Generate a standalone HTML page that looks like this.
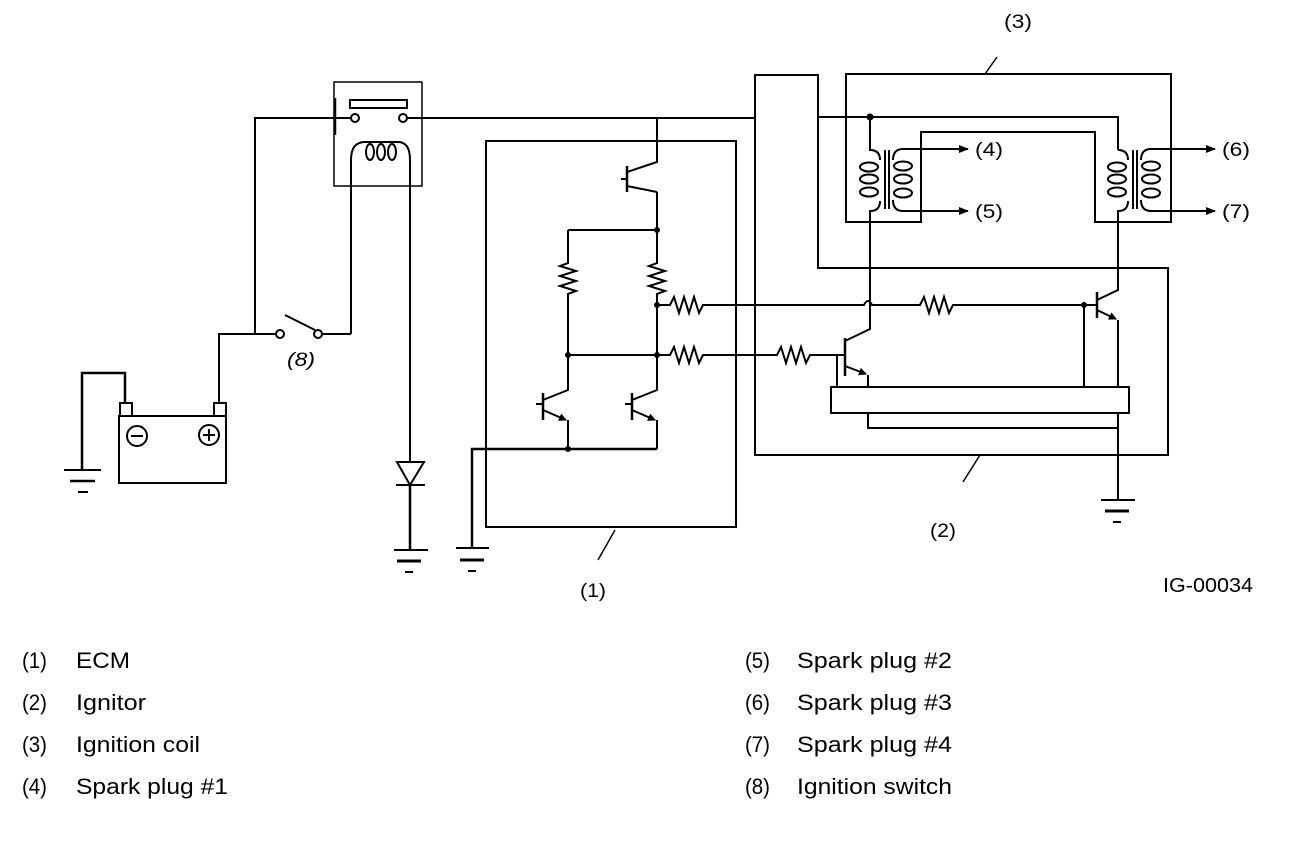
<!DOCTYPE html>
<html><head><meta charset="utf-8"><style>
html,body{margin:0;padding:0;background:#fff;}
svg{display:block;}
text{font-family:"Liberation Sans",Arial,sans-serif;fill:#000;}
</style></head><body>
<svg width="1312" height="866" viewBox="0 0 1312 866" xmlns="http://www.w3.org/2000/svg">
<defs>
<marker id="ar" markerWidth="10" markerHeight="8" refX="9" refY="4" orient="auto" markerUnits="userSpaceOnUse">
<path d="M0,0 L10,4 L0,8 Z" fill="#000"/></marker>
<marker id="ea" markerWidth="8" markerHeight="8" refX="7" refY="4" orient="auto" markerUnits="userSpaceOnUse">
<path d="M0,0 L8,4 L0,8 Z" fill="#000"/></marker>
</defs>
<g fill="none" stroke="#000" stroke-width="2">
<rect x="334" y="82" width="88" height="104" stroke-width="1.5"/>
<rect x="350" y="100" width="57" height="8" stroke-width="2"/>
<circle cx="355" cy="118" r="4" fill="#fff"/>
<circle cx="403" cy="118" r="4" fill="#fff"/>
<line x1="335" y1="98" x2="335" y2="135" stroke-width="2.5"/>
<path d="M255,334 V118 H351"/>
<path d="M407,118 H755"/>
<path d="M351,334 V160 Q351,142 365,142 H398 Q410,142 410,160 V462"/>
<ellipse cx="370" cy="152" rx="4" ry="8"/><ellipse cx="381" cy="152" rx="4" ry="8"/><ellipse cx="392" cy="152" rx="4" ry="8"/>
<path d="M219,403 V334 H276"/>
<circle cx="280" cy="334" r="4" fill="#fff"/>
<circle cx="318" cy="334" r="4" fill="#fff"/>
<line x1="285" y1="315" x2="315" y2="330"/>
<path d="M322,334 H351"/>
<rect x="119" y="416" width="107" height="67"/>
<rect x="120" y="403" width="12" height="13"/>
<rect x="214" y="403" width="12" height="13"/>
<circle cx="137" cy="436" r="10"/><line x1="131" y1="436" x2="143" y2="436"/>
<circle cx="209" cy="435" r="10"/><line x1="203" y1="435" x2="215" y2="435"/><line x1="209" y1="429" x2="209" y2="441"/>
<path d="M125,403 V373 H82 V470" stroke-width="2.5"/>
<line x1="64" y1="470" x2="101" y2="470"/><line x1="70" y1="481" x2="95" y2="481" stroke-width="2.5"/><line x1="78" y1="492" x2="88" y2="492"/>
<path d="M397,462 H424 L410,485 Z"/>
<line x1="396" y1="485" x2="425" y2="485"/>
<line x1="410" y1="485" x2="410" y2="550" stroke-width="2.5"/>
<line x1="394" y1="550" x2="428" y2="550"/><line x1="397" y1="561" x2="421" y2="561" stroke-width="3"/><line x1="405" y1="572" x2="413" y2="572"/>
<rect x="486" y="141" width="250" height="386"/>
<line x1="615" y1="530" x2="598" y2="560" stroke-width="1.5"/>
<path d="M472,548 V449 H657" stroke-width="2.5"/>
<line x1="456" y1="548" x2="489" y2="548"/><line x1="460" y1="560" x2="484" y2="560" stroke-width="3"/><line x1="468" y1="571" x2="476" y2="571"/>
<path d="M657,118 V162 L627,172"/>
<line x1="627" y1="166" x2="627" y2="192" stroke-width="2.5"/>
<line x1="621" y1="179" x2="627" y2="179"/>
<path d="M657,192 L627,186"/>
<path d="M657,192 V263 l-8,3 l16,5 l-16,5 l16,5 l-16,5 l16,5 l-8,3 V390 L632,400"/>
<path d="M568,230 H657"/>
<path d="M568,230 V263 l-8,3 l16,5 l-16,5 l16,5 l-16,5 l16,5 l-8,3 V390 L543,400"/>
<path d="M568,355 H670 l4,-8 l5,16 l5,-16 l5,16 l5,-16 l5,16 l4,-8 H777 l4,-8 l5,16 l5,-16 l5,16 l5,-16 l5,16 l4,-8 H845"/>
<path d="M657,305 H670 l4,-8 l5,16 l5,-16 l5,16 l5,-16 l5,16 l4,-8 H864 q4,-8 8,0 H920 l4,-8 l5,16 l5,-16 l5,16 l5,-16 l5,16 l4,-8 H1097"/>
<circle cx="657" cy="230" r="2" fill="#000"/><circle cx="568" cy="355" r="2" fill="#000"/><circle cx="657" cy="355" r="2" fill="#000"/><circle cx="657" cy="305" r="2" fill="#000"/><circle cx="568" cy="449" r="2" fill="#000"/>
<line x1="543" y1="393" x2="543" y2="420" stroke-width="2.5"/><line x1="536" y1="404" x2="543" y2="404"/>
<path d="M543,410 L566,420" marker-end="url(#ea)"/><path d="M568,420 V449"/>
<line x1="632" y1="393" x2="632" y2="420" stroke-width="2.5"/><line x1="625" y1="404" x2="632" y2="404"/>
<path d="M632,410 L655,420" marker-end="url(#ea)"/><path d="M657,420 V449"/>
<path d="M755,75 H818 V268 H1168 V455 H755 Z"/>
<line x1="980" y1="455" x2="963" y2="482" stroke-width="1.5"/>
<path d="M846,74 H1171 V222 H1095 V132 H921 V222 H846 Z"/>
<line x1="985" y1="74" x2="997" y2="57" stroke-width="1.5"/>
<path d="M818,117 H1118 V150"/>
<circle cx="870" cy="117" r="2.5" fill="#000"/>
<path d="M870,117 V150 Q880,150 880,160"/>
<path d="M880,201 Q880,211 870,211 V329 L845,341"/>
<ellipse cx="869" cy="167" rx="9" ry="4.5"/><ellipse cx="869" cy="179" rx="9" ry="4.5"/><ellipse cx="869" cy="192" rx="9" ry="4.5"/>
<line x1="885" y1="150" x2="885" y2="209"/><line x1="889" y1="150" x2="889" y2="209"/>
<ellipse cx="903" cy="166" rx="9" ry="4.5"/><ellipse cx="903" cy="179" rx="9" ry="4.5"/><ellipse cx="903" cy="193" rx="9" ry="4.5"/>
<path d="M893,160 Q893,149 903,149 H968" marker-end="url(#ar)"/>
<path d="M893,200 Q893,211 903,211 H968" marker-end="url(#ar)"/>
<path d="M1118,150 Q1128,150 1128,160"/>
<path d="M1128,201 Q1128,211 1118,211 V290 L1097,300"/>
<ellipse cx="1117" cy="167" rx="9" ry="4.5"/><ellipse cx="1117" cy="179" rx="9" ry="4.5"/><ellipse cx="1117" cy="192" rx="9" ry="4.5"/>
<line x1="1133" y1="150" x2="1133" y2="209"/><line x1="1137" y1="150" x2="1137" y2="209"/>
<ellipse cx="1151" cy="166" rx="9" ry="4.5"/><ellipse cx="1151" cy="179" rx="9" ry="4.5"/><ellipse cx="1151" cy="193" rx="9" ry="4.5"/>
<path d="M1141,160 Q1141,149 1151,149 H1215" marker-end="url(#ar)"/>
<path d="M1141,200 Q1141,211 1151,211 H1215" marker-end="url(#ar)"/>
<line x1="845" y1="338" x2="845" y2="376" stroke-width="2.5"/>
<path d="M845,366 L866,374" marker-end="url(#ea)"/><path d="M868,375 V387"/>
<path d="M837,355 V387"/>
<line x1="1097" y1="292" x2="1097" y2="318" stroke-width="2.5"/>
<path d="M1097,310 L1116,319" marker-end="url(#ea)"/><path d="M1118,320 V387"/>
<path d="M1084,305 V387"/>
<circle cx="1084" cy="305" r="2" fill="#000"/>
<rect x="831" y="387" width="298" height="26"/>
<path d="M868,413 V428 H1118"/>
<path d="M1118,413 V500"/>
<line x1="1101" y1="500" x2="1135" y2="500"/><line x1="1105" y1="511" x2="1129" y2="511" stroke-width="3"/><line x1="1113" y1="522" x2="1121" y2="522"/>
</g>
<g font-size="19">
<text x="975" y="156" textLength="28" lengthAdjust="spacingAndGlyphs">(4)</text>
<text x="975" y="218" textLength="28" lengthAdjust="spacingAndGlyphs">(5)</text>
<text x="1222" y="156" textLength="28" lengthAdjust="spacingAndGlyphs">(6)</text>
<text x="1222" y="218" textLength="28" lengthAdjust="spacingAndGlyphs">(7)</text>
<text x="1004" y="28" textLength="28" lengthAdjust="spacingAndGlyphs">(3)</text>
<text x="930" y="537" textLength="26" lengthAdjust="spacingAndGlyphs">(2)</text>
<text x="580" y="597" textLength="26" lengthAdjust="spacingAndGlyphs">(1)</text>
<text x="287" y="366" textLength="28" lengthAdjust="spacingAndGlyphs" font-style="italic">(8)</text>
<text x="1163" y="592" font-size="20" textLength="90" lengthAdjust="spacingAndGlyphs">IG-00034</text>
</g>
<g font-size="22">
<text x="22" y="668" textLength="25" lengthAdjust="spacingAndGlyphs">(1)</text><text x="76" y="668" textLength="54" lengthAdjust="spacingAndGlyphs">ECM</text>
<text x="22" y="710" textLength="25" lengthAdjust="spacingAndGlyphs">(2)</text><text x="76" y="710" textLength="70" lengthAdjust="spacingAndGlyphs">Ignitor</text>
<text x="22" y="752" textLength="25" lengthAdjust="spacingAndGlyphs">(3)</text><text x="76" y="752" textLength="124" lengthAdjust="spacingAndGlyphs">Ignition coil</text>
<text x="22" y="794" textLength="25" lengthAdjust="spacingAndGlyphs">(4)</text><text x="76" y="794" textLength="152" lengthAdjust="spacingAndGlyphs">Spark plug #1</text>
<text x="745" y="668" textLength="25" lengthAdjust="spacingAndGlyphs">(5)</text><text x="797" y="668" textLength="155" lengthAdjust="spacingAndGlyphs">Spark plug #2</text>
<text x="745" y="710" textLength="25" lengthAdjust="spacingAndGlyphs">(6)</text><text x="797" y="710" textLength="155" lengthAdjust="spacingAndGlyphs">Spark plug #3</text>
<text x="745" y="752" textLength="25" lengthAdjust="spacingAndGlyphs">(7)</text><text x="797" y="752" textLength="155" lengthAdjust="spacingAndGlyphs">Spark plug #4</text>
<text x="745" y="794" textLength="25" lengthAdjust="spacingAndGlyphs">(8)</text><text x="797" y="794" textLength="155" lengthAdjust="spacingAndGlyphs">Ignition switch</text>
</g>
</svg>
</body></html>
